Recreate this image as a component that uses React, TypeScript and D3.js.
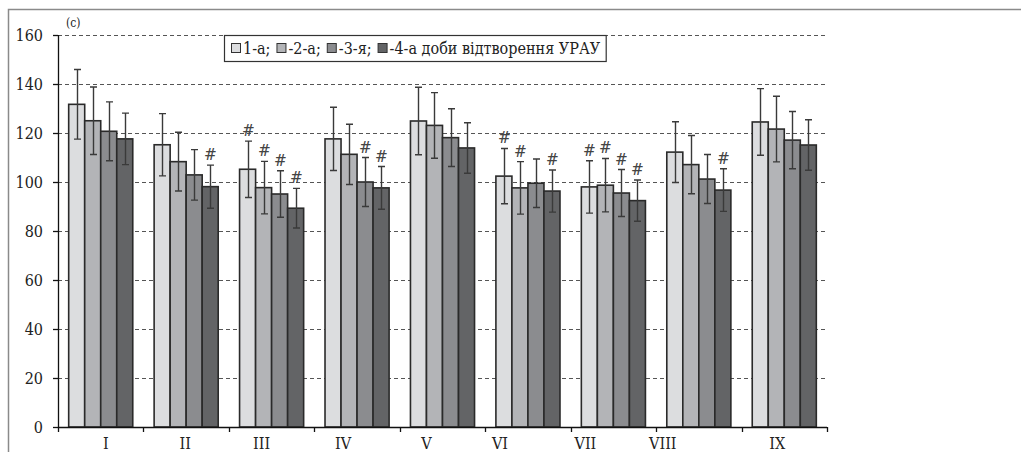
import React, { useEffect, useRef } from "react";
import * as d3 from "d3";

// Groups (Roman numerals) and the four recovery days shown for each
const groups = ["I", "II", "III", "IV", "V", "VI", "VII", "VIII", "IX"];
const seriesNames = ["1-а;", "-2-а;", "-3-я;", "-4-а доби відтворення УРАУ"];

// Mean values per group, one array per day
const day1 = [131.7, 115.2, 105.2, 117.6, 124.9, 102.4, 98.0, 112.2, 124.5];
const day2 = [125.0, 108.3, 97.7, 111.3, 123.1, 97.6, 98.7, 107.1, 121.6];
const day3 = [120.7, 102.9, 95.1, 100.0, 118.1, 99.5, 95.5, 101.2, 117.1];
const day4 = [117.6, 98.1, 89.3, 97.6, 113.9, 96.3, 92.4, 96.7, 115.1];

// Spread (± SD) per group, one array per day
const err1 = [14.2, 12.7, 11.5, 12.9, 13.8, 11.3, 10.7, 12.4, 13.6];
const err2 = [13.8, 12.0, 10.7, 12.3, 13.4, 10.7, 10.9, 11.9, 13.4];
const err3 = [12.0, 10.3, 9.5, 10.0, 11.8, 9.9, 9.6, 10.0, 11.7];
const err4 = [10.5, 8.8, 8.1, 8.7, 10.3, 8.6, 8.4, 8.7, 10.3];

// Significance markers (#) per group, one array per day
const sig1 = [false, false, true, false, false, true, true, false, false];
const sig2 = [false, false, true, false, false, true, true, false, false];
const sig3 = [false, false, true, true, false, false, true, false, false];
const sig4 = [false, true, true, true, false, true, true, true, false];

const yTicks = [0, 20, 40, 60, 80, 100, 120, 140, 160];

// Horizontal nudges of the group captions under the axis
const captionNudge = [5, -1, -10, -14, -16, -28, -28, -36, -7];

const fills = ["#dcdddf", "#b3b4b7", "#8b8c8f", "#636466"];

const SERIF = "'DejaVu Serif Condensed', 'DejaVu Serif'";

export default function App() {
  const ref = useRef<SVGSVGElement | null>(null);

  useEffect(() => {
    const svg = d3.select(ref.current);
    svg.selectAll("*").remove();

    const left = 58;
    const right = 827;
    const top = 35;
    const bottom = 427;

    const means = [day1, day2, day3, day4];
    const errs = [err1, err2, err3, err4];
    const sigs = [sig1, sig2, sig3, sig4];

    const y = d3.scaleLinear().domain([0, 160]).range([bottom, top]);
    const x = d3
      .scaleBand<string>()
      .domain(groups)
      .range([left, right])
      .paddingInner(0.25)
      .paddingOuter(0.125);
    const xs = d3
      .scaleBand<number>()
      .domain(d3.range(4))
      .range([0, x.bandwidth()]);

    const txt = (sel: any) =>
      sel.style("font-family", SERIF).style("font-stretch", "condensed");

    // outer frame
    svg
      .append("path")
      .attr("d", `M8.5,452 V9.5 H1021`)
      .attr("fill", "none")
      .attr("stroke", "#8a8a8a")
      .attr("stroke-width", 1.5);

    // dashed grid
    svg
      .append("g")
      .selectAll("line")
      .data(yTicks.filter((t) => t > 0))
      .join("line")
      .attr("x1", left)
      .attr("x2", right)
      .attr("y1", (d) => y(d) + 0.5)
      .attr("y2", (d) => y(d) + 0.5)
      .attr("stroke", "#555")
      .attr("stroke-width", 1)
      .attr("stroke-dasharray", "4,3");

    // bars
    const gBars = svg.append("g");
    groups.forEach((g, gi) => {
      means.forEach((arr, si) => {
        const x0 = (x(g) as number) + (xs(si) as number);
        gBars
          .append("rect")
          .attr("x", x0)
          .attr("y", y(arr[gi]))
          .attr("width", xs.bandwidth())
          .attr("height", y(0) - y(arr[gi]))
          .attr("fill", fills[si])
          .attr("stroke", "#2a2a2a")
          .attr("stroke-width", 1.6);
      });
    });

    // error bars and markers
    const gErr = svg.append("g");
    groups.forEach((g, gi) => {
      means.forEach((arr, si) => {
        const cx = Math.round((x(g) as number) + (xs(si) as number) + xs.bandwidth() / 2) + 0.5;
        const hi = y(arr[gi] + errs[si][gi]);
        const lo = y(arr[gi] - errs[si][gi]);
        gErr
          .append("path")
          .attr("d", `M${cx},${hi} V${lo} M${cx - 3.5},${hi} H${cx + 3.5} M${cx - 3.5},${lo} H${cx + 3.5}`)
          .attr("fill", "none")
          .attr("stroke", "#3a3a3a")
          .attr("stroke-width", 1.4);
        if (sigs[si][gi]) {
          gErr
            .append("text")
            .attr("x", cx)
            .attr("y", hi - 5)
            .attr("text-anchor", "middle")
            .attr("font-size", 17)
            .attr("fill", "#444")
            .call(txt)
            .text("#");
        }
      });
    });

    // y axis
    svg
      .append("line")
      .attr("x1", left + 0.5)
      .attr("x2", left + 0.5)
      .attr("y1", top)
      .attr("y2", bottom)
      .attr("stroke", "#111")
      .attr("stroke-width", 1.3);
    const gy = svg.append("g");
    yTicks.forEach((t) => {
      gy.append("line")
        .attr("x1", left - 5)
        .attr("x2", left)
        .attr("y1", y(t) + 0.5)
        .attr("y2", y(t) + 0.5)
        .attr("stroke", "#111")
        .attr("stroke-width", 1.3);
      gy.append("text")
        .attr("x", 43)
        .attr("y", y(t) + 5.5)
        .attr("text-anchor", "end")
        .attr("font-size", 16)
        .attr("fill", "#222")
        .call(txt)
        .text(String(t));
    });

    // x axis
    svg
      .append("line")
      .attr("x1", left)
      .attr("x2", right)
      .attr("y1", bottom + 0.5)
      .attr("y2", bottom + 0.5)
      .attr("stroke", "#111")
      .attr("stroke-width", 1.3);
    const step = x.step();
    d3.range(groups.length + 1).forEach((i) => {
      const tx = Math.round(left + i * step) + 0.5;
      svg
        .append("line")
        .attr("x1", tx)
        .attr("x2", tx)
        .attr("y1", bottom)
        .attr("y2", bottom + 5)
        .attr("stroke", "#111")
        .attr("stroke-width", 1.3);
    });
    groups.forEach((g, gi) => {
      svg
        .append("text")
        .attr("x", (x(g) as number) + x.bandwidth() / 2 + captionNudge[gi])
        .attr("y", 449)
        .attr("text-anchor", "middle")
        .attr("font-size", 16)
        .attr("fill", "#222")
        .call(txt)
        .text(g);
    });

    // panel letter
    svg
      .append("text")
      .attr("x", 66)
      .attr("y", 27)
      .attr("font-size", 12)
      .attr("fill", "#222")
      .call(txt)
      .text("(c)");

    // legend
    const lg = svg.append("g");
    const box = lg
      .append("rect")
      .attr("x", 224.5)
      .attr("y", 35.5)
      .attr("height", 26)
      .attr("fill", "#fff")
      .attr("stroke", "#333")
      .attr("stroke-width", 1.2);
    let cursor = 231;
    seriesNames.forEach((name, si) => {
      lg.append("rect")
        .attr("x", cursor + 0.5)
        .attr("y", 43.5)
        .attr("width", 9)
        .attr("height", 9)
        .attr("fill", fills[si])
        .attr("stroke", "#333")
        .attr("stroke-width", 1);
      const t = lg
        .append("text")
        .attr("x", cursor + 12)
        .attr("y", 54)
        .attr("font-size", 16)
        .attr("fill", "#222")
        .call(txt)
        .text(name);
      const w = (t.node() as SVGTextElement).getComputedTextLength();
      cursor = cursor + 12 + w + 6;
    });
    box.attr("width", cursor - 224.5);
  }, []);

  return (
    <svg
      ref={ref}
      width={1021}
      height={452}
      style={{ position: "absolute", left: 0, top: 0, background: "#fff" }}
    />
  );
}
